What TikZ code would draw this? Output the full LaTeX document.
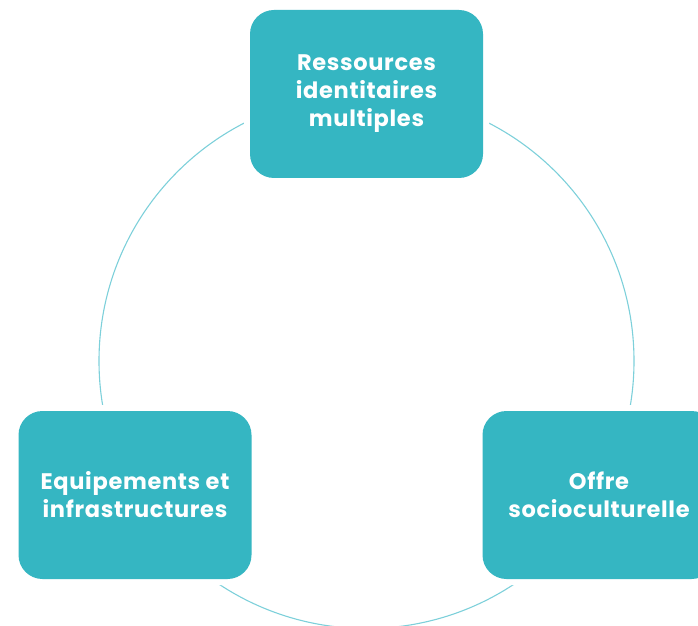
\documentclass[tikz,border=0pt]{standalone}
\usepackage{fontspec}
\setmainfont{Poppins}[LetterSpace=3]
\definecolor{boxteal}{RGB}{53,182,194}
\definecolor{ringteal}{RGB}{125,208,218}
\begin{document}
\begin{tikzpicture}[x=1pt,y=1pt,
  cyclebox/.style={rectangle, rounded corners=24pt, fill=boxteal,
    minimum width=233pt, minimum height=168pt, inner sep=0pt,
    preaction={draw=white, line width=12pt},
    text=white, align=center, font=\bfseries\fontsize{22.5}{28}\selectfont}]
\useasboundingbox (0,0) rectangle (698,625);
\coordinate (ctr) at (366.5,264);
\draw[ringteal, line width=1.1pt] (ctr) circle[radius=267.5];
\node[cyclebox] (top) at (366.5,531) {Ressources\\identitaires\\multiples};
\node[cyclebox] (left) at (135,130) {Equipements et\\infrastructures};
\node[cyclebox] (right) at (599,130) {Offre\\socioculturelle};
\end{tikzpicture}
\end{document}
